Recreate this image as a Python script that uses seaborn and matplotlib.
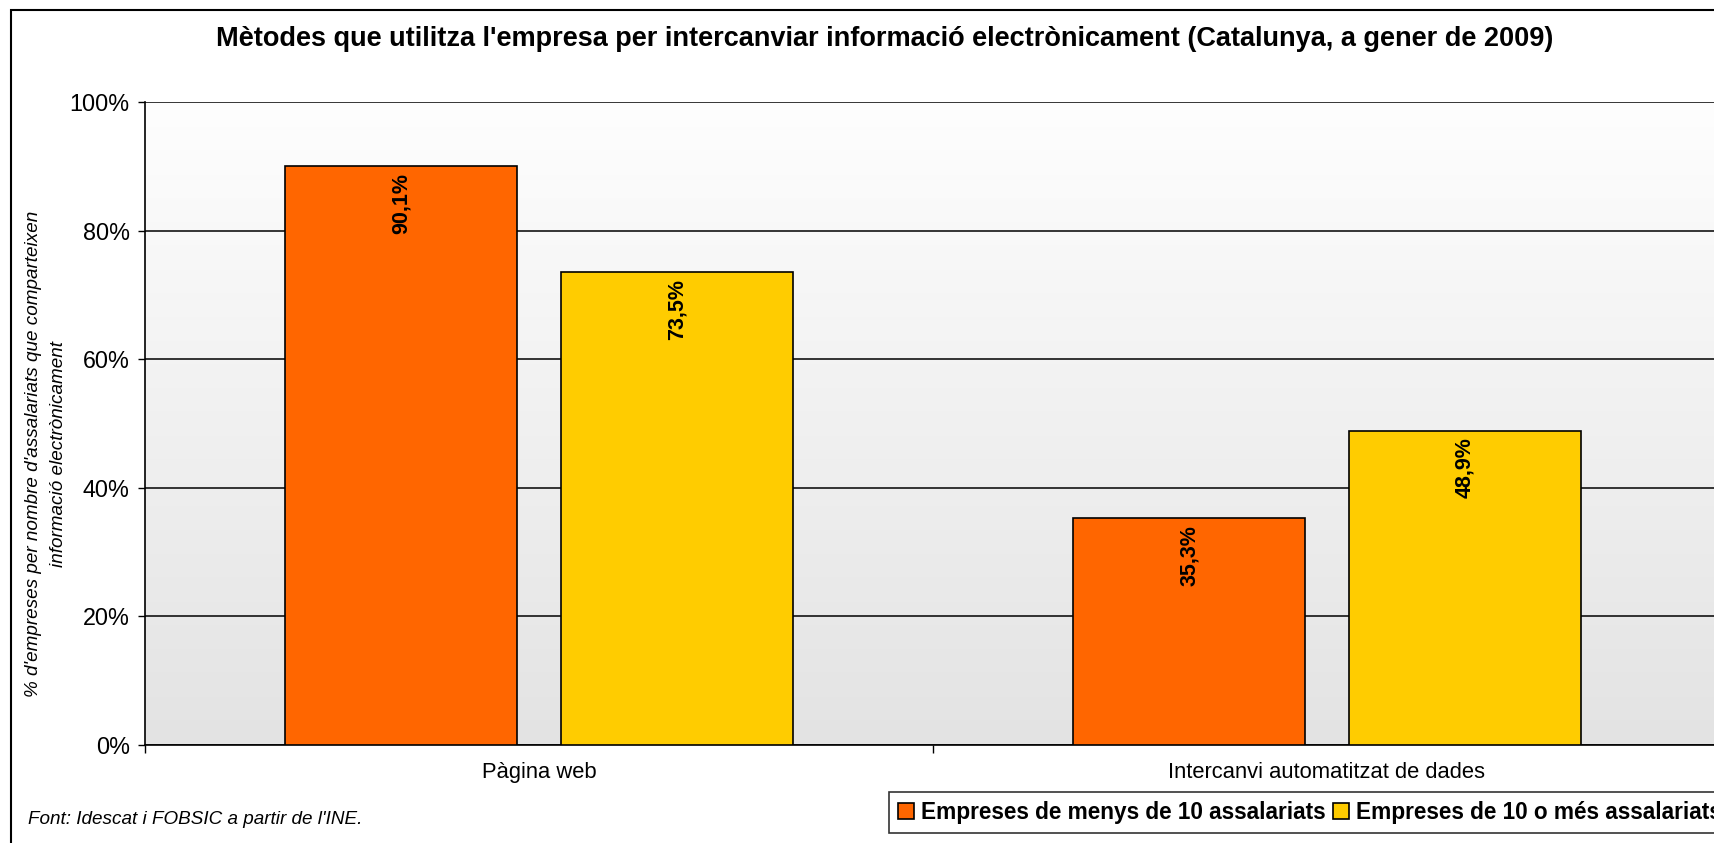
import numpy as np
import pandas as pd
import matplotlib
matplotlib.use("Agg")
import matplotlib.pyplot as plt
import seaborn as sns
from matplotlib.patches import Rectangle, Patch

# Data
metodes = ["Pàgina web", "Intercanvi automatitzat de dades"]
grups = ["Empreses de menys de 10 assalariats", "Empreses de 10 o més assalariats"]
menys_10 = [90.1, 35.3]
mes_10 = [73.5, 48.9]
colors = ["#FF6600", "#FFCC00"]

df = pd.DataFrame({
    "metode": metodes * 2,
    "grup": [grups[0]] * 2 + [grups[1]] * 2,
    "valor": menys_10 + mes_10,
})

sns.set_style("white")
plt.rcParams["font.family"] = ["Liberation Sans", "DejaVu Sans"]
plt.rcParams["text.color"] = "black"
plt.rcParams["axes.labelcolor"] = "black"
plt.rcParams["xtick.color"] = "black"
plt.rcParams["ytick.color"] = "black"

W, H = 1715, 843
fig = plt.figure(figsize=(W / 100, H / 100), dpi=100)

# plot area (runs past the right edge, as in the original)
left, right, top, bottom = 145, 1721, 102, 745
ax = fig.add_axes([left / W, 1 - bottom / H, (right - left) / W, (bottom - top) / H])

# gradient background
grad = np.linspace(0, 1, 256).reshape(-1, 1)
ax.imshow(grad, extent=[-0.5, 1.5, 0, 100], aspect="auto",
          cmap=matplotlib.colors.LinearSegmentedColormap.from_list("g", ["#fefefe", "#e3e3e3"]),
          zorder=0, origin="upper")

sns.barplot(
    data=df, x="metode", y="valor", hue="grup",
    palette=colors, width=0.7, gap=0.16,
    edgecolor="black", linewidth=1.2, saturation=1,
    ax=ax, zorder=3,
)

ax.set_xlim(-0.5, 1.5)
ax.set_ylim(0, 100)
ax.set_yticks(range(0, 101, 20))
ax.set_yticklabels([f"{v}%" for v in range(0, 101, 20)])
ax.yaxis.grid(True, color="black", linewidth=1.1)
ax.set_axisbelow(True)
ax.set_xlabel("")
ax.set_ylabel("% d'empreses per nombre d'assalariats que comparteixen\ninformació electrònicament",
              fontsize=13.6, fontstyle="italic", linespacing=1.65)
ax.yaxis.set_label_coords(-0.0495, 0.453)

ax.set_xticks([0, 1])
ax.set_xticks([-0.5, 0.5, 1.5], minor=True)
ax.tick_params(axis="x", which="major", length=0, pad=12, labelsize=15.8)
ax.tick_params(axis="x", which="minor", length=6, width=1, direction="out", bottom=True)
ax.tick_params(axis="y", length=5, width=1, direction="out", pad=6, labelsize=16.8, left=True)

for s in ["left", "bottom"]:
    ax.spines[s].set_color("black")
    ax.spines[s].set_linewidth(1.2)
ax.spines["top"].set_visible(False)
ax.spines["right"].set_visible(False)

# value labels inside bars
for cont in ax.containers:
    for bar in cont:
        h = bar.get_height()
        lbl = f"{h:.1f}%".replace(".", ",")
        ax.annotate(lbl, (bar.get_x() + bar.get_width() / 2, h),
                    xytext=(0, -5), textcoords="offset points",
                    rotation=90, ha="center", va="top",
                    fontsize=15.5, fontweight="bold", zorder=5)

# legend box runs past the right edge, as in the original
ax.get_legend().remove()
handles = [Patch(facecolor=c, edgecolor="black", linewidth=1.2) for c in colors]
leg = fig.legend(handles, grups, loc="upper left",
                 bbox_to_anchor=(889 / W, 1 - 792 / H), ncol=2,
                 prop={"weight": "bold", "size": 16.3},
                 frameon=True, fancybox=False, borderpad=0.4,
                 handlelength=0.7, handleheight=0.7, handletextpad=0.3,
                 columnspacing=0.35, borderaxespad=0)
leg.get_frame().set_edgecolor("black")
leg.get_frame().set_linewidth(1.2)

fig.suptitle("Mètodes que utilitza l'empresa per intercanviar informació electrònicament (Catalunya, a gener de 2009)",
             x=885 / W, y=1 - 39 / H, va="center", fontsize=19.5, fontweight="bold")

fig.text(28 / W, 1 - 819 / H, "Font: Idescat i FOBSIC a partir de l'INE.",
         fontstyle="italic", fontsize=13.6, va="center")

# outer chart border
fig.patches.append(Rectangle((11 / W, -0.05), 1.1, 1 - 10 / H + 0.05,
                             transform=fig.transFigure, fill=False,
                             edgecolor="black", linewidth=1.5))

fig.savefig("out.png", dpi=100)
